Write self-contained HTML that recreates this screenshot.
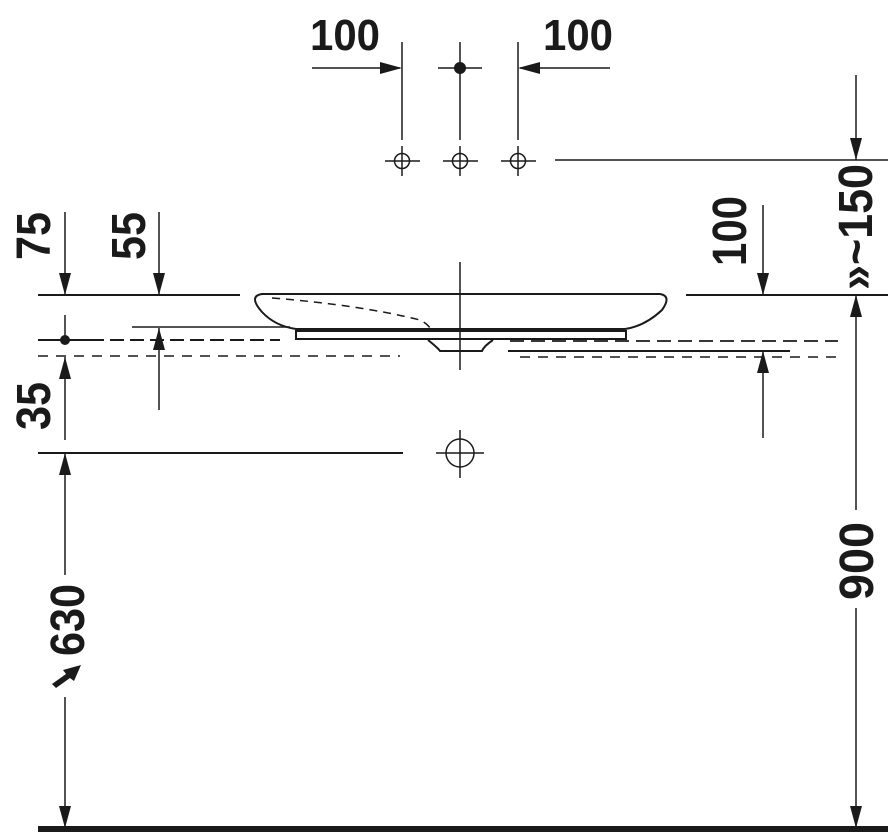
<!DOCTYPE html>
<html><head><style>html,body{margin:0;padding:0;background:#fff}svg{display:block}text{font-family:"Liberation Sans",sans-serif;font-weight:bold;fill:#1a1a1a}</style></head>
<body>
<svg width="892" height="833" viewBox="0 0 892 833" xmlns="http://www.w3.org/2000/svg">
<defs>
<path id="ad" d="M-6,-22 L6,-22 L0,0 Z" fill="#1a1a1a"/>
</defs>
<g stroke="#1a1a1a" fill="none" stroke-width="1.5">
<!-- top -->
<line x1="402" y1="42" x2="402" y2="140"/>
<line x1="460" y1="42" x2="460" y2="140"/>
<line x1="518" y1="42" x2="518" y2="140"/>
<line x1="312" y1="68" x2="400" y2="68"/>
<line x1="438" y1="68" x2="482" y2="68"/>
<line x1="520" y1="68" x2="610" y2="68"/>
<circle cx="402" cy="161" r="7.5"/><circle cx="460" cy="161" r="7.5"/><circle cx="518" cy="161" r="7.5"/>
<line x1="385" y1="161" x2="420" y2="161"/><line x1="443" y1="161" x2="478" y2="161"/><line x1="501" y1="161" x2="536" y2="161"/>
<line x1="402" y1="146" x2="402" y2="176"/><line x1="460" y1="146" x2="460" y2="176"/><line x1="518" y1="146" x2="518" y2="176"/>
<line x1="555" y1="160" x2="888" y2="160"/>
<line x1="856" y1="75" x2="856" y2="160"/>
<!-- main lines -->
<line x1="38" y1="295" x2="240" y2="295" stroke-width="2"/>
<line x1="686" y1="295" x2="888" y2="295" stroke-width="2"/>
<line x1="460" y1="262" x2="460" y2="370"/>
<line x1="132" y1="327" x2="290" y2="327"/>
<line x1="38" y1="340" x2="90" y2="340" stroke-width="2"/>
<line x1="90" y1="340" x2="280" y2="340" stroke-width="2" stroke-dasharray="14,6"/>
<line x1="38" y1="356" x2="400" y2="356" stroke-dasharray="10,8"/>
<line x1="510" y1="341" x2="838" y2="341" stroke-width="1.8" stroke-dasharray="14,7"/>
<line x1="508" y1="351" x2="790" y2="351" stroke-width="2"/>
<line x1="520" y1="357" x2="838" y2="357" stroke-dasharray="10,8"/>
<!-- sink -->
<path d="M262,294 L660,294 Q672,296 662,310 Q645,326 625,329 L296,329 Q275,326 262,312 Q248,296 262,294 Z" stroke-width="2"/>
<rect x="296" y="331" width="330" height="8" stroke-width="2"/>
<path d="M428,340 Q438,348 440,351 L482,351 Q484,346 493,340" stroke-width="2"/>
<path d="M272,298 Q360,305 420,320 Q430,325 432,332" stroke-dasharray="8,6"/>
<!-- dims left -->
<line x1="65" y1="212" x2="65" y2="295"/>
<line x1="159" y1="212" x2="159" y2="295"/>
<line x1="65" y1="315" x2="65" y2="340"/>
<line x1="65" y1="357" x2="65" y2="440"/>
<line x1="159" y1="328" x2="159" y2="410"/>
<line x1="38" y1="453" x2="403" y2="453" stroke-width="2"/>
<circle cx="460" cy="453" r="14"/>
<line x1="436" y1="453" x2="484" y2="453"/><line x1="460" y1="430" x2="460" y2="478"/>
<line x1="65" y1="453" x2="65" y2="575"/>
<line x1="65" y1="697" x2="65" y2="828"/>
<!-- right dims -->
<line x1="763" y1="205" x2="763" y2="295"/>
<line x1="763" y1="351" x2="763" y2="438"/>
<line x1="856" y1="295" x2="856" y2="510"/>
<line x1="856" y1="608" x2="856" y2="828"/>
</g>
<rect x="38" y="826" width="850" height="6" fill="#1a1a1a"/>
<circle cx="460" cy="68" r="6" fill="#1a1a1a"/>
<circle cx="65" cy="340" r="5" fill="#1a1a1a"/>
<!-- arrowheads -->
<use href="#ad" transform="translate(402,68) rotate(-90)"/>
<use href="#ad" transform="translate(518,68) rotate(90)"/>
<use href="#ad" transform="translate(856,160)"/>
<use href="#ad" transform="translate(65,295)"/>
<use href="#ad" transform="translate(159,295)"/>
<use href="#ad" transform="translate(65,357) rotate(180)"/>
<use href="#ad" transform="translate(159,328) rotate(180)"/>
<use href="#ad" transform="translate(65,453) rotate(180)"/>
<use href="#ad" transform="translate(65,828)"/>
<use href="#ad" transform="translate(763,295)"/>
<use href="#ad" transform="translate(763,351) rotate(180)"/>
<use href="#ad" transform="translate(856,295) rotate(180)"/>
<use href="#ad" transform="translate(856,828)"/>
<path d="M52,684 L66,674 L63,670 L81,665 L74,681 L70,678 L56,688 Z" fill="#1a1a1a"/>
<!-- text -->
<text x="310" y="50" font-size="44" textLength="70" lengthAdjust="spacingAndGlyphs">100</text>
<text x="543" y="50" font-size="44" textLength="70" lengthAdjust="spacingAndGlyphs">100</text>
<text transform="translate(50,260) rotate(-90)" font-size="48" textLength="48" lengthAdjust="spacingAndGlyphs">75</text>
<text transform="translate(145,260) rotate(-90)" font-size="48" textLength="48" lengthAdjust="spacingAndGlyphs">55</text>
<text transform="translate(50,430) rotate(-90)" font-size="48" textLength="48" lengthAdjust="spacingAndGlyphs">35</text>
<text transform="translate(84,656) rotate(-90)" font-size="48" textLength="72" lengthAdjust="spacingAndGlyphs">630</text>
<text transform="translate(746,266) rotate(-90)" font-size="48" textLength="70" lengthAdjust="spacingAndGlyphs">100</text>
<text transform="translate(873,600) rotate(-90)" font-size="48" textLength="78" lengthAdjust="spacingAndGlyphs">900</text>
<text transform="translate(872,290) rotate(-90)" font-size="48" textLength="126" lengthAdjust="spacingAndGlyphs">»~150</text>
</svg>
</body></html>
